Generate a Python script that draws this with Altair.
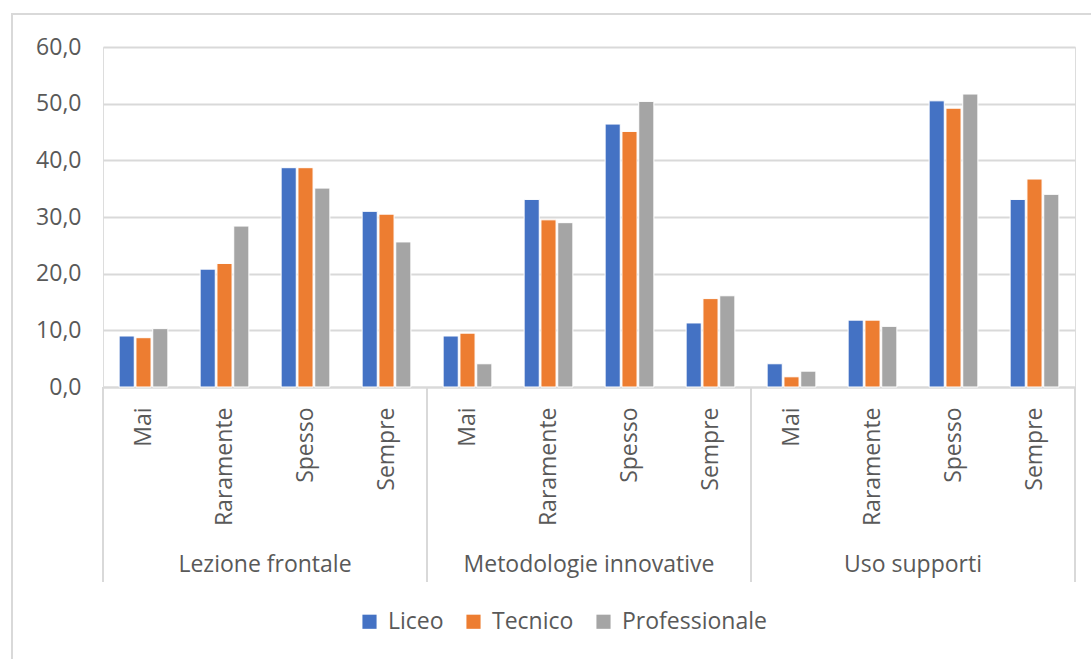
import altair as alt
import pandas as pd

# Survey answers (%) by school type, grouped by teaching method
groups = ["Lezione frontale", "Metodologie innovative", "Uso supporti"]
frequencies = ["Mai", "Raramente", "Spesso", "Sempre"]
series = ["Liceo", "Tecnico", "Professionale"]
colors = ["#4472C4", "#ED7D31", "#A5A5A5"]

liceo = [9.0, 20.8, 38.7, 31.0,
         9.0, 33.1, 46.4, 11.3,
         4.1, 11.8, 50.5, 33.1]
tecnico = [8.7, 21.8, 38.7, 30.5,
           9.5, 29.5, 45.1, 15.6,
           1.8, 11.8, 49.2, 36.7]
professionale = [10.3, 28.4, 35.1, 25.6,
                 4.1, 29.0, 50.4, 16.1,
                 2.8, 10.7, 51.7, 34.0]

values_by_series = dict(zip(series, [liceo, tecnico, professionale]))

keys = [f"{g}|{f}" for g in groups for f in frequencies]
rows = []
for s in series:
    for k, v in zip(keys, values_by_series[s]):
        rows.append({"key": k, "serie": s, "valore": v})
df = pd.DataFrame(rows)

W, H = 972, 340
FONT = "Open Sans"
FS = 23
TEXT = "#595959"
LINE = "#D9D9D9"

x_scale = alt.Scale(domain=keys, paddingInner=0, paddingOuter=0)

bars = alt.Chart(df).mark_bar(stroke="white", strokeWidth=1).encode(
    x=alt.X("key:N", scale=x_scale, sort=keys, title=None,
            axis=alt.Axis(labelExpr="split(datum.label, '|')[1]", labelAngle=-90,
                          labelPadding=20, labelFontSize=FS, labelFont=FONT,
                          labelColor=TEXT, ticks=False, domainColor=LINE,
                          domainWidth=2, grid=False)),
    xOffset=alt.XOffset("serie:N", sort=series,
                        scale=alt.Scale(domain=series, paddingInner=0.1, paddingOuter=0.96)),
    y=alt.Y("valore:Q", title=None, scale=alt.Scale(domain=[0, 60], nice=False),
            axis=alt.Axis(values=[0, 10, 20, 30, 40, 50, 60],
                          labelExpr="replace(format(datum.value, '.1f'), '.', ',')",
                          labelFontSize=FS, labelFont=FONT, labelColor=TEXT,
                          labelPadding=22, domain=False, ticks=False,
                          gridColor=LINE, gridWidth=2)),
    color=alt.Color("serie:N", sort=series,
                    scale=alt.Scale(domain=series, range=colors),
                    legend=alt.Legend(title=None, orient="none", direction="horizontal",
                                      legendX=255, legendY=563, symbolType="square",
                                      symbolSize=200, symbolStrokeWidth=0,
                                      labelFontSize=FS, labelFont=FONT, labelColor=TEXT,
                                      labelOffset=7, columnPadding=18)),
)

# Vertical separators between the method groups
starts = pd.DataFrame({"key": [f"{g}|{frequencies[0]}" for g in groups]})
ends = pd.DataFrame({"key": [f"{groups[-1]}|{frequencies[-1]}"]})

sep_start = alt.Chart(starts).mark_rule(color=LINE, strokeWidth=2).encode(
    x=alt.X("key:N", scale=x_scale, bandPosition=0),
    y=alt.datum(0),
    y2=alt.value(H + 195),
)
sep_end = alt.Chart(ends).mark_rule(color=LINE, strokeWidth=2).encode(
    x=alt.X("key:N", scale=x_scale, bandPosition=1),
    y=alt.datum(0),
    y2=alt.value(H + 195),
)

# Group names centred under each block of four bars
group_df = pd.DataFrame({"key": [f"{g}|{frequencies[1]}" for g in groups], "gruppo": groups})
group_labels = alt.Chart(group_df).mark_text(
    font=FONT, fontSize=FS, color=TEXT, baseline="middle", align="center"
).encode(
    x=alt.X("key:N", scale=x_scale, bandPosition=1),
    y=alt.value(H + 178),
    text="gruppo:N",
)

# Outer chart frame
frame = alt.Chart(alt.Data(values=[{}])).mark_rect(
    fill="transparent", stroke=LINE, strokeWidth=2
).encode(
    x=alt.value(-91), x2=alt.value(W + 200),
    y=alt.value(-33), y2=alt.value(H + 400),
)

chart = alt.layer(frame, bars, sep_start, sep_end, group_labels).properties(
    width=W, height=H,
    autosize=alt.AutoSizeParams(type="none"),
    padding={"left": 103, "top": 47, "right": 16, "bottom": 272},
).configure_view(stroke=None).configure(background="white")

chart.save("out.html", embed_options={"renderer": "svg", "actions": False})
